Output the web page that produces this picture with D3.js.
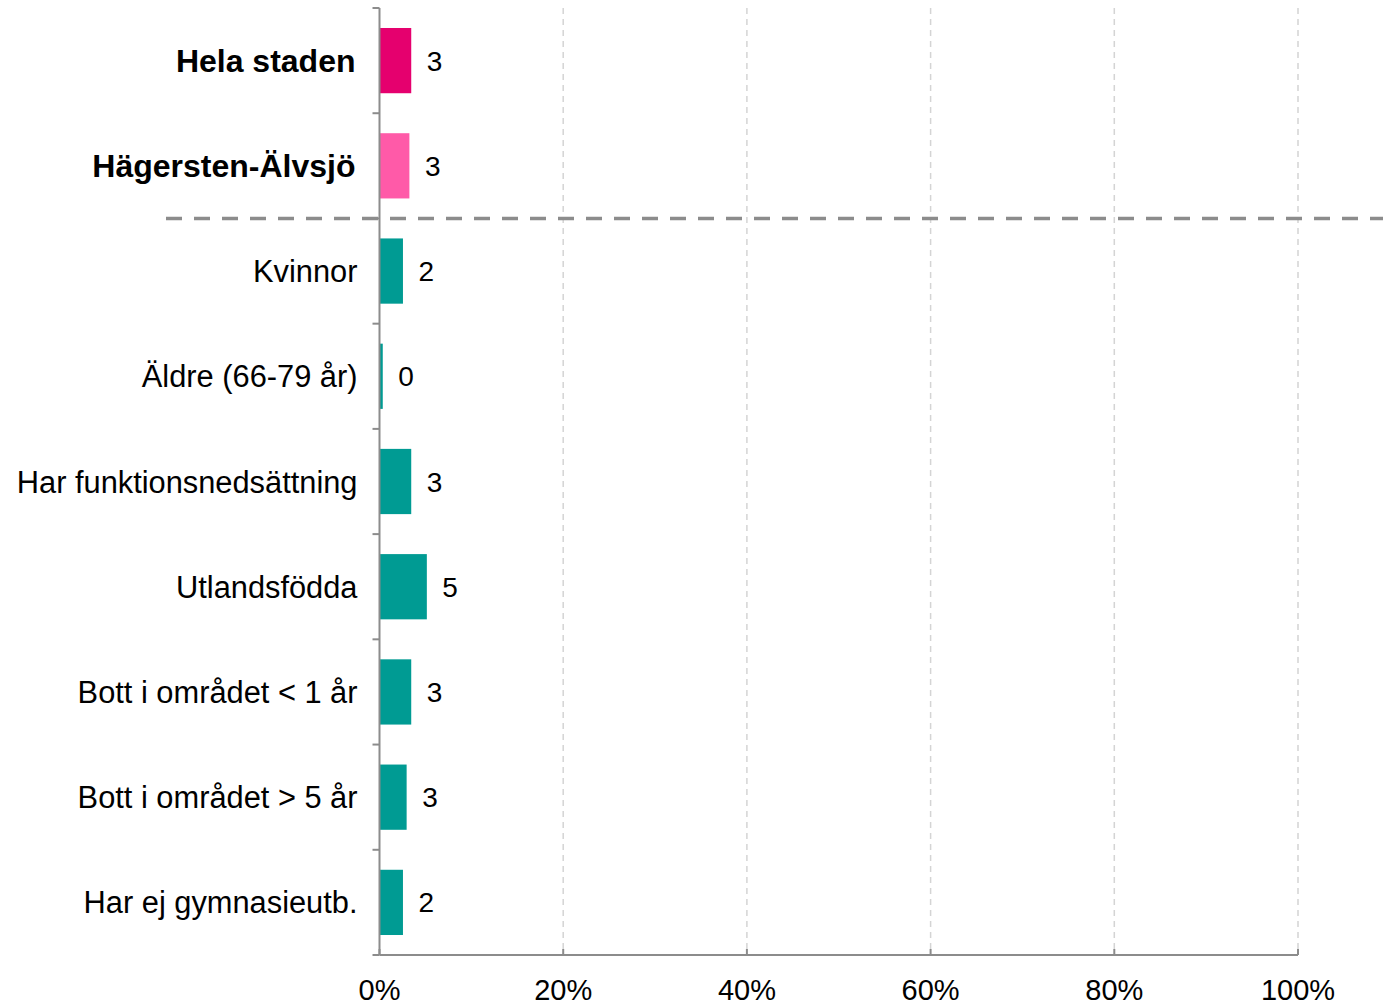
<!DOCTYPE html>
<html>
<head>
<meta charset="utf-8">
<script src="https://cdn.jsdelivr.net/npm/d3@7"></script>
<style>
  body { margin: 0; background: #fff; }
  svg { font-family: "Liberation Sans", Arial, sans-serif; }
</style>
</head>
<body>
<div id="chart"></div>
<script>
let categories = ["Hela staden", "Hägersten-Älvsjö", "Kvinnor", "Äldre (66-79 år)", "Har funktionsnedsättning",
  "Utlandsfödda", "Bott i området < 1 år", "Bott i området > 5 år", "Har ej gymnasieutb."];
let values = [3.4, 3.2, 2.5, 0.3, 3.4, 5.1, 3.4, 2.9, 2.5];
let valueLabels = ["3", "3", "2", "0", "3", "5", "3", "3", "2"];
let barColors = ["#e5006e", "#ff5aa8", "#009b93", "#009b93", "#009b93", "#009b93", "#009b93", "#009b93", "#009b93"];
let boldRows = ["Hela staden", "Hägersten-Älvsjö"];
let xTicks = [0, 20, 40, 60, 80, 100];

let width = 1383;
let height = 1005;
let plotLeft = 379.5, plotRight = 1298, plotTop = 8, plotBottom = 955;

let svg = d3.select("#chart").append("svg")
  .attr("width", width)
  .attr("height", height);

let x = d3.scaleLinear().domain([0, 100]).range([plotLeft, plotRight]);
let y = d3.scaleBand().domain(categories).range([plotTop, plotBottom])
  .paddingInner(0.38).paddingOuter(0.19);

// gridlines
svg.append("g")
  .selectAll("line")
  .data(xTicks.slice(1))
  .enter()
  .append("line")
  .attr("x1", d => x(d)).attr("x2", d => x(d))
  .attr("y1", plotTop).attr("y2", plotBottom)
  .attr("stroke", "#d4d4d4")
  .attr("stroke-width", 1.5)
  .attr("stroke-dasharray", "6,5");

// bars
svg.append("g")
  .selectAll("rect")
  .data(categories)
  .enter()
  .append("rect")
  .attr("x", x(0) + 0.5)
  .attr("y", d => y(d))
  .attr("width", (d, i) => x(values[i]) - x(0))
  .attr("height", y.bandwidth())
  .attr("fill", (d, i) => barColors[i]);

// value labels
svg.append("g")
  .selectAll("text")
  .data(categories)
  .enter()
  .append("text")
  .attr("x", (d, i) => x(values[i]) + 16)
  .attr("y", d => y(d) + y.bandwidth() / 2)
  .attr("dy", "0.36em")
  .attr("font-size", 28)
  .attr("fill", "#000")
  .text((d, i) => valueLabels[i]);

// y axis
let step = y.step();
let boundaries = d3.range(categories.length + 1).map(i => plotTop + i * step);
let yAxis = svg.append("g");
yAxis.append("line")
  .attr("x1", plotLeft).attr("x2", plotLeft)
  .attr("y1", plotTop).attr("y2", plotBottom)
  .attr("stroke", "#8c8c8c").attr("stroke-width", 2);
yAxis.selectAll("line.tick")
  .data(boundaries)
  .enter()
  .append("line")
  .attr("class", "tick")
  .attr("x1", plotLeft - 7).attr("x2", plotLeft)
  .attr("y1", d => d).attr("y2", d => d)
  .attr("stroke", "#8c8c8c").attr("stroke-width", 2);
yAxis.selectAll("text")
  .data(categories)
  .enter()
  .append("text")
  .attr("x", d => boldRows.includes(d) ? plotLeft - 24 : plotLeft - 22)
  .attr("y", d => y(d) + y.bandwidth() / 2)
  .attr("dy", "0.36em")
  .attr("text-anchor", "end")
  .attr("font-size", d => boldRows.includes(d) ? 32 : 30.8)
  .attr("font-weight", d => boldRows.includes(d) ? "bold" : "normal")
  .attr("fill", "#000")
  .text(d => d);

// x axis
let xAxis = svg.append("g");
xAxis.append("line")
  .attr("x1", plotLeft).attr("x2", plotRight)
  .attr("y1", plotBottom).attr("y2", plotBottom)
  .attr("stroke", "#8c8c8c").attr("stroke-width", 2);
xAxis.selectAll("line.tick")
  .data(xTicks)
  .enter()
  .append("line")
  .attr("class", "tick")
  .attr("x1", d => x(d)).attr("x2", d => x(d))
  .attr("y1", plotBottom - 6).attr("y2", plotBottom)
  .attr("stroke", "#8c8c8c").attr("stroke-width", 2);
xAxis.selectAll("text")
  .data(xTicks)
  .enter()
  .append("text")
  .attr("x", d => x(d))
  .attr("y", plotBottom + 45)
  .attr("text-anchor", "middle")
  .attr("font-size", 29)
  .attr("fill", "#000")
  .text(d => d + "%");

// separator between overall rows and groups
svg.append("line")
  .attr("x1", 166).attr("x2", width)
  .attr("y1", plotTop + 2 * step).attr("y2", plotTop + 2 * step)
  .attr("stroke", "#8c8c8c")
  .attr("stroke-width", 3.5)
  .attr("stroke-dasharray", "16,12");
</script>
</body>
</html>
